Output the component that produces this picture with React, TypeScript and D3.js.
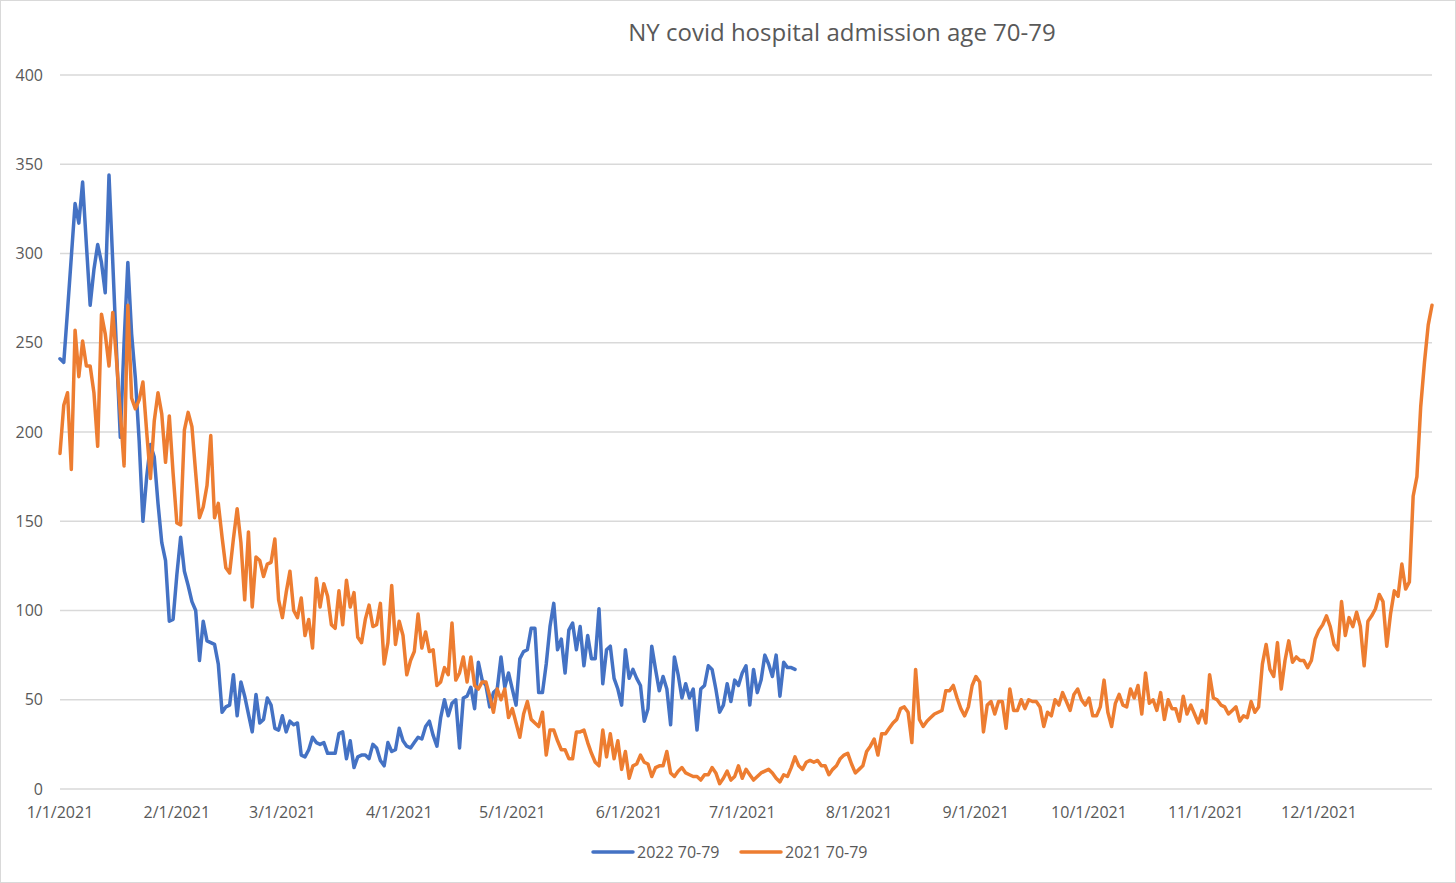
import React from 'react';
import * as d3 from 'd3';

// daily admissions, one value per day starting Jan 1
const series2022: number[] = [
  241, 239, 268, 298, 328, 317, 340, 305, 271, 291, 305, 295, 278, 344, 295, 245, 197, 250, 295, 255,
  230, 195, 150, 175, 193, 186, 160, 138, 128, 94, 95, 120, 141, 122, 114, 105, 100, 72, 94, 83,
  82, 81, 70, 43, 46, 47, 64, 41, 60, 52, 42, 32, 53, 37, 39, 51, 47, 34, 33, 41,
  32, 38, 36, 37, 19, 18, 22, 29, 26, 25, 26, 20, 20, 20, 31, 32, 17, 27, 12, 18,
  19, 19, 17, 25, 23, 16, 13, 26, 21, 22, 34, 27, 24, 23, 26, 29, 28, 35, 38, 30,
  24, 40, 50, 41, 48, 50, 23, 51, 52, 57, 45, 71, 61, 58, 46, 54, 56, 74, 57, 65,
  56, 47, 73, 77, 78, 90, 90, 54, 54, 70, 91, 104, 78, 84, 65, 89, 93, 78, 91, 69,
  86, 73, 73, 101, 59, 78, 80, 62, 56, 47, 78, 62, 67, 62, 58, 38, 45, 80, 67, 55,
  63, 56, 36, 74, 64, 51, 59, 51, 56, 33, 56, 58, 69, 67, 56, 43, 47, 59, 49, 61,
  58, 65, 69, 47, 67, 54, 61, 75, 70, 63, 75, 52, 71, 68, 68, 67,
];

const series2021: number[] = [
  188, 215, 222, 179, 257, 231, 251, 237, 237, 222, 192, 266, 255, 237, 267, 240, 211, 181, 271, 219,
  213, 218, 228, 200, 174, 206, 222, 210, 183, 209, 177, 149, 148, 201, 211, 203, 177, 152, 158, 170,
  198, 152, 160, 141, 124, 121, 140, 157, 138, 106, 144, 102, 130, 128, 119, 126, 127, 140, 106, 96,
  110, 122, 100, 96, 107, 86, 95, 79, 118, 102, 115, 108, 92, 90, 111, 92, 117, 102, 110, 85,
  82, 95, 103, 91, 92, 104, 70, 82, 114, 81, 94, 86, 64, 72, 77, 98, 79, 88, 77, 78,
  58, 60, 68, 64, 93, 61, 65, 74, 60, 74, 58, 56, 60, 60, 52, 43, 56, 50, 56, 40,
  45, 37, 29, 42, 49, 39, 37, 35, 43, 19, 33, 33, 27, 22, 22, 17, 17, 32, 32, 33,
  26, 20, 15, 13, 33, 18, 31, 17, 27, 11, 21, 6, 13, 14, 19, 15, 14, 7, 12, 13,
  13, 21, 9, 7, 10, 12, 9, 8, 7, 7, 5, 8, 8, 12, 9, 3, 6, 10, 5, 7,
  13, 6, 11, 8, 5, 7, 9, 10, 11, 9, 6, 4, 8, 7, 12, 18, 13, 11, 15, 16,
  15, 16, 13, 13, 8, 11, 13, 17, 19, 20, 14, 9, 11, 13, 21, 24, 28, 19, 31, 31,
  34, 37, 39, 45, 46, 43, 26, 67, 39, 35, 38, 40, 42, 43, 44, 55, 55, 58, 51, 45,
  41, 46, 58, 63, 60, 32, 47, 49, 42, 49, 49, 34, 56, 44, 44, 50, 45, 50, 49, 49,
  46, 35, 43, 41, 50, 47, 54, 49, 44, 53, 56, 50, 47, 51, 41, 41, 46, 61, 43, 35,
  48, 53, 47, 46, 56, 51, 58, 42, 65, 48, 50, 44, 54, 39, 50, 45, 45, 38, 52, 42,
  47, 42, 37, 44, 37, 64, 51, 50, 47, 46, 42, 44, 46, 38, 41, 40, 49, 43, 46, 70,
  81, 67, 63, 82, 56, 72, 83, 71, 74, 72, 72, 68, 72, 84, 89, 92, 97, 91, 81, 78,
  105, 86, 96, 91, 99, 91, 69, 94, 97, 101, 109, 105, 80, 98, 111, 108, 126, 112, 116, 164,
  175, 214, 239, 260, 271,
];

const yTicks = [0, 50, 100, 150, 200, 250, 300, 350, 400];
const monthLabels = [
  '1/1/2021', '2/1/2021', '3/1/2021', '4/1/2021', '5/1/2021', '6/1/2021',
  '7/1/2021', '8/1/2021', '9/1/2021', '10/1/2021', '11/1/2021', '12/1/2021',
];
const seriesNames = ['2022 70-79', '2021 70-79'];
const seriesColors = ['#4472C4', '#ED7D31'];
const title = 'NY covid hospital admission age 70-79';

const W = 1456;
const H = 883;
const font = '"Open Sans", "Noto Sans", sans-serif';
const textColor = '#595959';

export default function App() {
  const start = new Date(Date.UTC(2021, 0, 1));
  const end = new Date(Date.UTC(2021, 11, 31));

  const x = d3.scaleUtc().domain([start, end]).range([60, 1432]);
  const y = d3.scaleLinear().domain([0, 400]).range([789, 75]);

  const dayDate = (i: number) => d3.utcDay.offset(start, i);
  const line = d3
    .line<number>()
    .x((_, i) => x(dayDate(i)))
    .y((d) => y(d));

  const months = d3.utcMonth.range(start, d3.utcDay.offset(end, 1));
  const [x0, x1] = x.range();

  const legendY = 852;
  const legend = [
    { name: seriesNames[0], color: seriesColors[0], x: 593 },
    { name: seriesNames[1], color: seriesColors[1], x: 741 },
  ];

  return (
    <svg
      width={W}
      height={H}
      viewBox={`0 0 ${W} ${H}`}
      style={{ position: 'absolute', left: 0, top: 0, background: '#fff' }}
      fontFamily={font}
    >
      <rect x={0.5} y={0.5} width={W - 1} height={H - 1} fill="#fff" stroke="#d9d9d9" />

      <text x={842} y={41} textAnchor="middle" fontSize={24} fill={textColor}>
        {title}
      </text>

      {/* grid + y labels */}
      {yTicks.map((t) => (
        <g key={t}>
          <line x1={x0} x2={x1} y1={y(t)} y2={y(t)} stroke="#d9d9d9" strokeWidth={1.3} />
          <text x={43} y={y(t)} dy="0.35em" textAnchor="end" fontSize={16} fill={textColor}>
            {t}
          </text>
        </g>
      ))}

      {/* x labels */}
      {months.map((m, i) => (
        <text key={i} x={x(m)} y={818} textAnchor="middle" fontSize={16} fill={textColor}>
          {monthLabels[i]}
        </text>
      ))}

      <path
        d={line(series2022) || ''}
        fill="none"
        stroke={seriesColors[0]}
        strokeWidth={3.5}
        strokeLinejoin="round"
        strokeLinecap="round"
      />
      <path
        d={line(series2021) || ''}
        fill="none"
        stroke={seriesColors[1]}
        strokeWidth={3.5}
        strokeLinejoin="round"
        strokeLinecap="round"
      />

      {legend.map((l) => (
        <g key={l.name}>
          <line
            x1={l.x}
            x2={l.x + 40}
            y1={legendY}
            y2={legendY}
            stroke={l.color}
            strokeWidth={3.5}
            strokeLinecap="round"
          />
          <text x={l.x + 44} y={legendY} dy="0.35em" fontSize={16} fill={textColor}>
            {l.name}
          </text>
        </g>
      ))}
    </svg>
  );
}
